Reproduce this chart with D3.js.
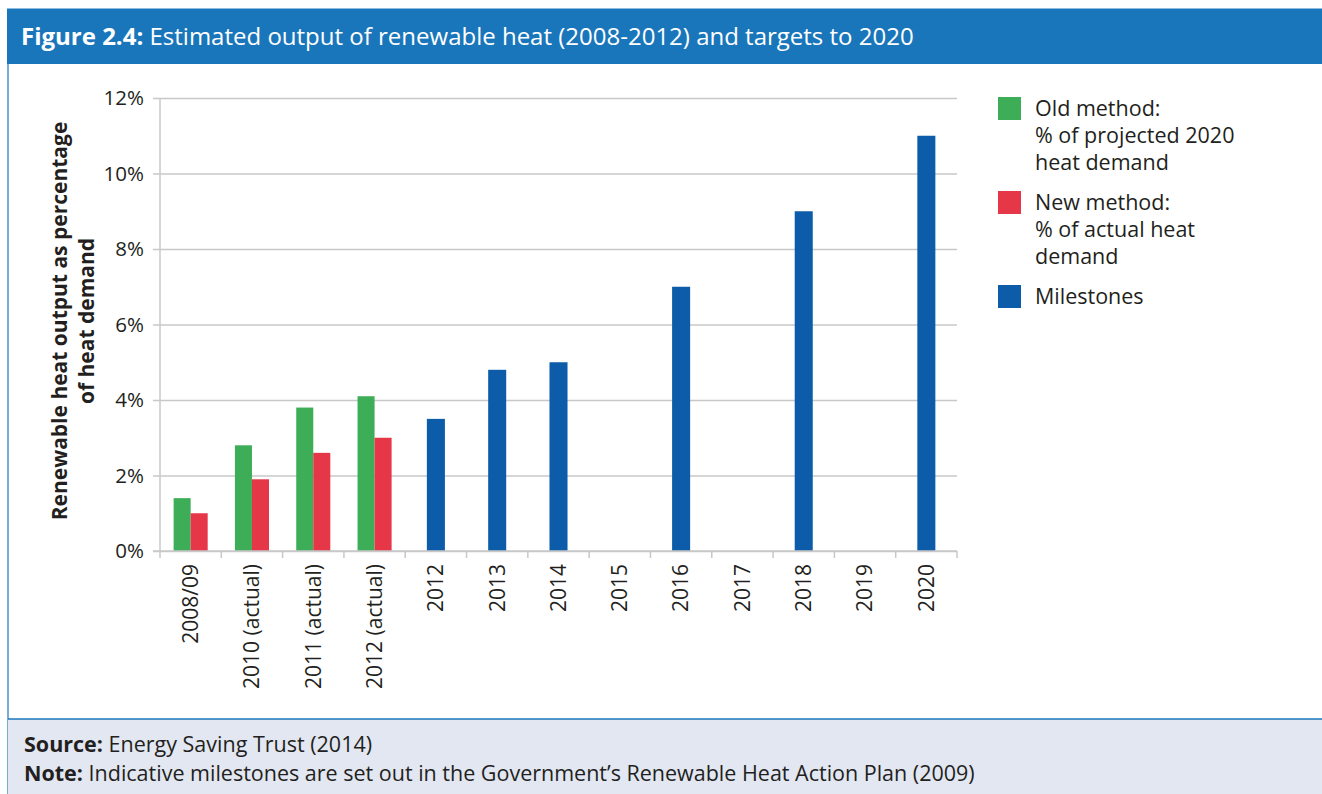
<!DOCTYPE html>
<html>
<head>
<meta charset="utf-8">
<script src="https://cdn.jsdelivr.net/npm/d3@7/dist/d3.min.js"></script>
<style>
  html, body { margin: 0; padding: 0; background: #ffffff; }
  svg { display: block; font-family: "Open Sans", "Noto Sans", sans-serif; }
</style>
</head>
<body>
<svg id="chart" width="1322" height="794"></svg>
<script>
// Categories along the x axis
const categories = ["2008/09", "2010 (actual)", "2011 (actual)", "2012 (actual)",
  "2012", "2013", "2014", "2015", "2016", "2017", "2018", "2019", "2020"];

// Old method: % of projected 2020 heat demand (first four categories)
const oldMethod = [1.4, 2.8, 3.8, 4.1];
// New method: % of actual heat demand (first four categories)
const newMethod = [1.0, 1.9, 2.6, 3.0];
// Milestones for 2012 onwards (null = no milestone that year)
const milestones = [3.5, 4.8, 5.0, null, 7.0, null, 9.0, null, 11.0];

const yTicks = [0, 2, 4, 6, 8, 10, 12];

const legendItems = [
  { key: "old", lines: ["Old method:", "% of projected 2020", "heat demand"] },
  { key: "new", lines: ["New method:", "% of actual heat", "demand"] },
  { key: "mil", lines: ["Milestones"] }
];

const colors = { old: "#3dae57", new: "#e63748", mil: "#0c5ca9" };
const frameBlue = "#1a76bb";
const textColor = "#231f20";
const gridColor = "#c8c8c8";

const svg = d3.select("#chart");
const W = 1322, H = 794;

// ---- frame, header and footer ----
svg.append("rect").attr("x", 7).attr("y", 8).attr("width", W - 7).attr("height", 56)
  .attr("fill", frameBlue);
svg.append("line").attr("x1", 7).attr("x2", W).attr("y1", 8.5).attr("y2", 8.5)
  .attr("stroke", "#8dbbe2").attr("stroke-width", 1);
svg.append("line").attr("x1", 8).attr("x2", 8).attr("y1", 64).attr("y2", H)
  .attr("stroke", frameBlue).attr("stroke-width", 1.2);

svg.append("rect").attr("x", 8).attr("y", 719).attr("width", W - 8).attr("height", H - 719)
  .attr("fill", "#e2e7f2");
svg.append("line").attr("x1", 8).attr("x2", W).attr("y1", 719).attr("y2", 719)
  .attr("stroke", frameBlue).attr("stroke-width", 1.5);

const title = svg.append("text").attr("x", 21).attr("y", 45)
  .attr("fill", "#ffffff").attr("font-size", 24);
title.append("tspan").attr("font-weight", 700).text("Figure 2.4:");
title.append("tspan").text(" Estimated output of renewable heat (2008-2012) and targets to 2020");

const src = svg.append("text").attr("x", 24).attr("y", 752).attr("fill", textColor).attr("font-size", 21.5);
src.append("tspan").attr("font-weight", 700).text("Source:");
src.append("tspan").text(" Energy Saving Trust (2014)");
const note = svg.append("text").attr("x", 24).attr("y", 781).attr("fill", textColor).attr("font-size", 21.5);
note.append("tspan").attr("font-weight", 700).text("Note:");
note.append("tspan").text(" Indicative milestones are set out in the Government\u2019s Renewable Heat Action Plan (2009)");

// ---- scales ----
const x = d3.scaleBand().domain(categories).range([160, 957]).paddingInner(0).paddingOuter(0);
const xPair = d3.scaleBand().domain(["old", "new"]).range([0, x.bandwidth()]).paddingInner(0).paddingOuter(0.8);
const xSingle = d3.scaleBand().domain(["mil"]).range([0, x.bandwidth()]).paddingOuter(1.2);
const y = d3.scaleLinear().domain([0, 12]).range([551, 98]);

// ---- gridlines and y axis ----
const yAxis = d3.axisLeft(y).tickValues(yTicks).tickSize(0).tickFormat(d => d + "%");
const gy = svg.append("g").attr("transform", "translate(160,0)").call(yAxis);
gy.select(".domain").remove();
gy.selectAll(".tick text").attr("x", -16).attr("font-size", 20.5).attr("fill", textColor)
  .attr("font-family", "\"Open Sans\", sans-serif");
gy.selectAll(".tick line").attr("x1", -7).attr("x2", 957 - 160)
  .attr("stroke", gridColor).attr("stroke-width", 1.5);

svg.append("line").attr("x1", 160).attr("x2", 160).attr("y1", 98).attr("y2", 551)
  .attr("stroke", gridColor).attr("stroke-width", 1.5);

// ---- bars ----
const pairData = [];
oldMethod.forEach((v, i) => pairData.push({ cat: categories[i], key: "old", v }));
newMethod.forEach((v, i) => pairData.push({ cat: categories[i], key: "new", v }));
svg.append("g").selectAll("rect").data(pairData).join("rect")
  .attr("x", d => x(d.cat) + xPair(d.key))
  .attr("width", xPair.bandwidth())
  .attr("y", d => y(d.v))
  .attr("height", d => y(0) - y(d.v))
  .attr("fill", d => colors[d.key]);

const milData = milestones.map((v, i) => ({ cat: categories[i + 4], v })).filter(d => d.v !== null);
svg.append("g").selectAll("rect").data(milData).join("rect")
  .attr("x", d => x(d.cat) + xSingle("mil"))
  .attr("width", xSingle.bandwidth())
  .attr("y", d => y(d.v))
  .attr("height", d => y(0) - y(d.v))
  .attr("fill", colors.mil);

// ---- x axis ----
svg.append("line").attr("x1", 153).attr("x2", 957).attr("y1", 551).attr("y2", 551)
  .attr("stroke", gridColor).attr("stroke-width", 1.5);
const boundaries = categories.map(c => x(c)).concat([x.range()[1]]);
svg.append("g").selectAll("line").data(boundaries).join("line")
  .attr("x1", d => d).attr("x2", d => d).attr("y1", 551).attr("y2", 558)
  .attr("stroke", gridColor).attr("stroke-width", 1.5);

svg.append("g").selectAll("text").data(categories).join("text")
  .attr("transform", d => `translate(${x(d) + x.bandwidth() / 2},564) rotate(-90)`)
  .attr("text-anchor", "end").attr("dy", "0.35em")
  .attr("font-size", 21).attr("fill", textColor)
  .text(d => d);

// ---- y axis title ----
const ytitle = svg.append("text")
  .attr("transform", "translate(67,321) rotate(-90)")
  .attr("text-anchor", "middle").attr("font-size", 21).attr("font-weight", 700).attr("fill", textColor);
ytitle.append("tspan").attr("x", 0).attr("y", 0).text("Renewable heat output as percentage");
ytitle.append("tspan").attr("x", 0).attr("y", 27).text("of heat demand");

// ---- legend ----
const legendTops = [97, 191, 285];
const lg = svg.append("g");
legendItems.forEach((item, i) => {
  const top = legendTops[i];
  lg.append("rect").attr("x", 998).attr("y", top).attr("width", 23).attr("height", 23)
    .attr("fill", colors[item.key]);
  const t = lg.append("text").attr("font-size", 21.5).attr("fill", textColor);
  item.lines.forEach((line, j) => {
    t.append("tspan").attr("x", 1035).attr("y", top + 19 + j * 27).text(line);
  });
});
</script>
</body>
</html>
